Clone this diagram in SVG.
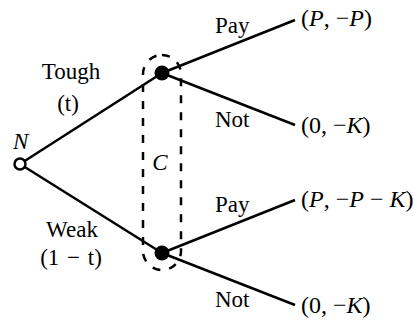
<svg xmlns="http://www.w3.org/2000/svg" width="414" height="322" viewBox="0 0 414 322">
<style>
.e{stroke:#000;stroke-width:2.5;fill:none}
.t{font-family:"Liberation Serif","Times New Roman",serif;font-size:23px;fill:#000}
.p{font-size:24px}
.i{font-style:italic}
.m{text-anchor:middle}
</style>
<rect width="414" height="322" fill="#fff"/>
<g id="connectors">
<line class="e" x1="20" y1="164" x2="162" y2="73"/>
<line class="e" x1="20" y1="164" x2="162" y2="253"/>
<line class="e" x1="162" y1="73" x2="295" y2="20"/>
<line class="e" x1="162" y1="73" x2="295" y2="125"/>
<line class="e" x1="162" y1="253" x2="295" y2="200"/>
<line class="e" x1="162" y1="253" x2="295" y2="305"/>
<text class="t m" x="71" y="79">Tough</text>
<text class="t m" x="68" y="111">(t)</text>
<text class="t m" x="72" y="237">Weak</text>
<text class="t m" x="71" y="265" word-spacing="2">(1 − t)</text>
<text class="t" x="215" y="33">Pay</text>
<text class="t" x="215" y="127">Not</text>
<text class="t" x="215" y="212">Pay</text>
<text class="t" x="215" y="307">Not</text>
</g>
<g id="infoset">
<rect x="143" y="55" width="38" height="215" rx="19" ry="19" fill="none" stroke="#000" stroke-width="2.5" stroke-dasharray="8,9"/>
<text class="t i m" x="160" y="170">C</text>
</g>
<g id="nodeN">
<circle cx="20" cy="164" r="5.5" fill="#fff" stroke="#000" stroke-width="2.5"/>
<text class="t i" x="13" y="149">N</text>
</g>
<g id="nodeTough">
<circle cx="162" cy="73" r="7.5" fill="#000"/>
</g>
<g id="nodeWeak">
<circle cx="162" cy="253" r="7.5" fill="#000"/>
</g>
<g id="outcome1"><text class="t p" x="301" y="26">(<tspan class="i">P</tspan>, −<tspan class="i">P</tspan>)</text></g>
<g id="outcome2"><text class="t p" x="301" y="133">(0, −<tspan class="i">K</tspan>)</text></g>
<g id="outcome3"><text class="t p" x="301" y="207">(<tspan class="i">P</tspan>, −<tspan class="i">P</tspan> − <tspan class="i">K</tspan>)</text></g>
<g id="outcome4"><text class="t p" x="301" y="313">(0, −<tspan class="i">K</tspan>)</text></g>
</svg>
